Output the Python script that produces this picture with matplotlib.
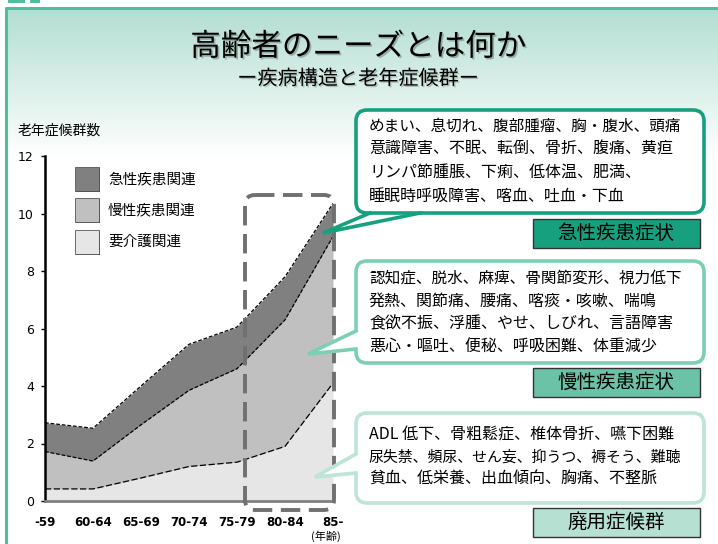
import numpy as np
import matplotlib
matplotlib.use('Agg')
import matplotlib.pyplot as plt
from matplotlib.patches import FancyBboxPatch, Rectangle, Polygon
import matplotlib.patheffects as pe

plt.rcParams['font.family'] = ['Noto Sans CJK JP', 'DejaVu Sans']

# data
ages = ['-59', '60-64', '65-69', '70-74', '75-79', '80-84', '85-']
care = [0.42, 0.42, 0.80, 1.20, 1.35, 1.90, 4.10]       # 要介護関連
chronic = [1.30, 0.97, 1.85, 2.65, 3.25, 4.40, 5.10]    # 慢性疾患関連
acute = [1.00, 1.14, 1.35, 1.60, 1.45, 1.50, 1.15]      # 急性疾患関連
series_names = ['急性疾患関連', '慢性疾患関連', '要介護関連']
series_colors = ['#808080', '#c0c0c0', '#e6e6e6']
y_ticks = [0, 2, 4, 6, 8, 10, 12]

title = '高齢者のニーズとは何か'
subtitle = 'ー疾病構造と老年症候群ー'
y_label = '老年症候群数'

boxes = [
    (['めまい、息切れ、腹部腫瘤、胸・腹水、頭痛',
      '意識障害、不眠、転倒、骨折、腹痛、黄疸',
      'リンパ節腫脹、下痢、低体温、肥満、',
      '睡眠時呼吸障害、喀血、吐血・下血'], '急性疾患症状'),
    (['認知症、脱水、麻痺、骨関節変形、視力低下',
      '発熱、関節痛、腰痛、喀痰・咳嗽、喘鳴',
      '食欲不振、浮腫、やせ、しびれ、言語障害',
      '悪心・嘔吐、便秘、呼吸困難、体重減少'], '慢性疾患症状'),
    (['ADL 低下、骨粗鬆症、椎体骨折、嚥下困難',
      '尿失禁、頻尿、せん妄、抑うつ、褥そう、難聴',
      '貧血、低栄養、出血傾向、胸痛、不整脈'], '廃用症候群'),
]

W, H = 718, 544
fig = plt.figure(figsize=(W / 100, H / 100), dpi=100)
renderer = fig.canvas.get_renderer()

# background layer in pixel coordinates
bg = fig.add_axes([0, 0, 1, 1], zorder=0)
bg.set_xlim(0, W)
bg.set_ylim(H, 0)
bg.axis('off')
grad = np.linspace(0, 1, 256)[:, None]
top_c = np.array([0.70, 0.87, 0.82])
cols = top_c + (1 - top_c) * np.clip(grad * 1.05, 0, 1)[..., None]
bg.imshow(np.repeat(cols, 2, axis=1), extent=[6, W, 165, 8], aspect='auto')
bg.plot([6, 6, W], [H, 8, 8], color='#4dbf9f', lw=2.2, solid_capstyle='butt')
bg.add_patch(Rectangle((8, 0), 17, 2.5, color='#4dbf9f', lw=0))
bg.add_patch(Rectangle((30, 0), 10, 2.5, color='#4dbf9f', lw=0))

bg.text(358, 47, title, fontsize=22, ha='center', va='center',
        path_effects=[pe.SimplePatchShadow(offset=(1.2, -1.2), alpha=0.25), pe.Normal()])
bg.text(358, 79, subtitle, fontsize=14.5, ha='center', va='center',
        path_effects=[pe.SimplePatchShadow(offset=(1, -1), alpha=0.2), pe.Normal()])
bg.text(18, 131, y_label, fontsize=10, ha='left', va='center')

# chart
ax = fig.add_axes([45 / W, (H - 501) / H, (333 - 45) / W, (501 - 156) / H], zorder=1)
ax.patch.set_alpha(0)
x = np.arange(len(ages))
lo = np.array(care)
mid = lo + np.array(chronic)
top = mid + np.array(acute)
ax.fill_between(x, 0, lo, color=series_colors[2], lw=0)
ax.fill_between(x, lo, mid, color=series_colors[1], lw=0)
ax.fill_between(x, mid, top, color=series_colors[0], lw=0)
ax.plot(x, top, color='black', lw=0.9, ls=(0, (3, 1.5)))
ax.plot(x, mid, color='black', lw=0.9, ls=(0, (3, 1.5)))
ax.plot(x, lo, color='black', lw=0.9, ls=(0, (5, 2)))
ax.set_xlim(0, len(ages) - 1)
ax.set_ylim(0, 12)
ax.set_yticks(y_ticks)
ax.set_xticks(x)
ax.set_xticklabels(ages, fontsize=8.5, fontweight='bold', family='DejaVu Sans')
ax.set_yticklabels([str(v) for v in y_ticks], fontsize=9, family='DejaVu Sans')
ax.tick_params(axis='x', length=0, pad=11)
ax.tick_params(axis='y', length=3, width=1, pad=5)
for s in ['top', 'right']:
    ax.spines[s].set_visible(False)
ax.spines['left'].set_linewidth(1.8)
ax.spines['bottom'].set_color('#7f7f7f')
ax.spines['bottom'].set_linewidth(2)

# overlay layer
ov = fig.add_axes([0, 0, 1, 1], zorder=2)
ov.set_xlim(0, W)
ov.set_ylim(H, 0)
ov.axis('off')
ov.patch.set_alpha(0)

ov.text(326, 536, '(年齢)', fontsize=8, ha='center', va='center')

# legend
leg_y = [167, 198, 230]
for name, c, yy in zip(series_names, series_colors, leg_y):
    ov.add_patch(Rectangle((76, yy + 1), 24, 24, color='#222222', lw=0))
    ov.add_patch(Rectangle((75, yy), 23.5, 23.5, facecolor=c, edgecolor='#555555', lw=0.6))
    ov.text(108, yy + 12, name, fontsize=10.5, ha='left', va='center')

# dashed highlight
ov.add_patch(FancyBboxPatch((245, 195), 89, 315, boxstyle='round,pad=0,rounding_size=10',
                            fill=False, edgecolor='#707070', lw=2.8, ls=(0, (5, 2.2))))

# callouts
box_geom = [(110, 213), (261, 363), (413, 503)]
edge_cols = ['#17a07d', '#7ccfb4', '#bde4d6']
label_cols = ['#17a07d', '#6cc2a6', '#b6e0d1']
label_y = [(219, 248), (368, 397), (508, 537)]
wedges = [
    [(323, 233), (370, 216), (420, 216)],
    [(308, 354), (359, 331), (359, 349)],
    [(315, 477), (359, 454), (359, 473)],
]
line_y = [[126, 149, 172, 196], [278, 301, 324, 347], [434, 457, 479]]
max_w = 318
for (lines, lab), (y0, y1), ec, lc, (ly0, ly1), wd, ly in zip(
        boxes, box_geom, edge_cols, label_cols, label_y, wedges, line_y):
    ov.add_patch(FancyBboxPatch((356, y0), 348, y1 - y0,
                                boxstyle='round,pad=0,rounding_size=11',
                                facecolor='white', edgecolor=ec, lw=2.6))
    tip, b1, b2 = wd
    ov.add_patch(Polygon([tip, b1, b2], closed=True, facecolor='white', edgecolor='none'))
    # wedge sides end on the box edge
    if b1[1] == b2[1]:
        e1, e2 = (b1[0], y1), (b2[0], y1)
    else:
        e1, e2 = (356, b1[1]), (356, b2[1])
    ov.plot([e1[0], tip[0], e2[0]], [e1[1], tip[1], e2[1]], color=ec, lw=2.6,
            solid_joinstyle='miter')
    for t, yy in zip(lines, ly):
        txt = ov.text(369, yy, t, fontsize=11.5, ha='left', va='center')
        fs = 11.5
        while txt.get_window_extent(renderer).width > max_w and fs > 8:
            fs -= 0.25
            txt.set_fontsize(fs)
    ov.add_patch(Rectangle((533, ly0), 167, ly1 - ly0, facecolor=lc, edgecolor='#333333', lw=1))
    ov.text(616, (ly0 + ly1) / 2, lab, fontsize=14, ha='center', va='center')

fig.savefig('out.png', dpi=100)
